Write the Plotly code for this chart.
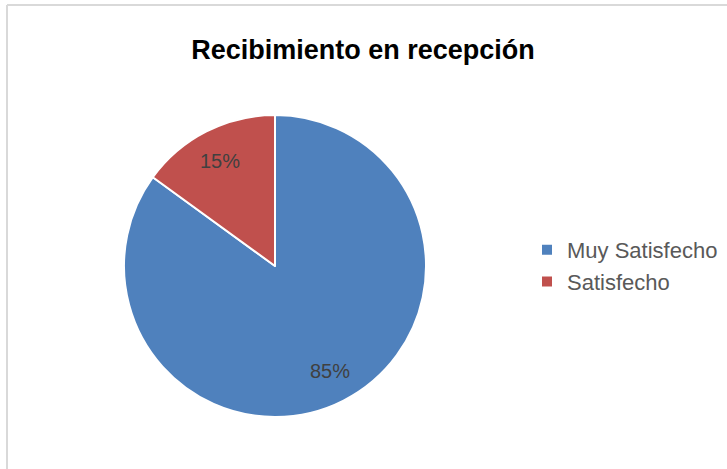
"""Pie chart: Recibimiento en recepción."""

import numpy as np
import plotly.graph_objects as go

labels = ["Muy Satisfecho", "Satisfecho"]
values = [85, 15]
colors = ["#4F81BD", "#C0504D"]

W, H = 727, 469
CX, CY, R = 275, 266, 151  # pie centre / radius in pixels

fig = go.Figure()
fig.add_trace(go.Pie(
    labels=labels,
    values=values,
    sort=False,
    direction="clockwise",
    rotation=0,
    marker=dict(colors=colors, line=dict(color="white", width=2)),
    textinfo="none",
    domain=dict(x=[(CX - R) / W, (CX + R) / W],
                y=[1 - (CY + R) / H, 1 - (CY - R) / H]),
    hoverinfo="label+percent",
))

# percent labels, Excel-style at ~0.8 radius along each slice's mid angle
total = float(sum(values))
start = 0.0
for v in values:
    frac = v / total
    mid = (start + frac / 2) * 2 * np.pi
    start += frac
    px = CX + 0.8 * R * np.sin(mid)
    py = CY - 0.78 * R * np.cos(mid)
    fig.add_annotation(
        x=px / W, y=1 - py / H, xref="paper", yref="paper",
        xanchor="center", yanchor="middle",
        text=f"{round(frac * 100)}%", showarrow=False,
        font=dict(family="Liberation Sans, Arial", size=20, color="#404040"),
    )

# chart frame (only top and left edges visible in the crop)
fig.add_shape(type="line", xref="paper", yref="paper",
              x0=7 / W, x1=1.01, y0=1 - 5 / H, y1=1 - 5 / H,
              line=dict(color="#D9D9D9", width=2))
fig.add_shape(type="line", xref="paper", yref="paper",
              x0=7 / W, x1=7 / W, y0=-0.01, y1=1 - 5 / H,
              line=dict(color="#D9D9D9", width=2))

fig.update_layout(
    width=W,
    height=H,
    margin=dict(l=0, r=0, t=0, b=0),
    paper_bgcolor="white",
    plot_bgcolor="white",
    title=dict(
        text="<b>Recibimiento en recepción</b>",
        x=363 / W, xanchor="center",
        y=1 - 50 / H, yanchor="middle",
        font=dict(family="Liberation Sans, Arial", size=27, color="#000000"),
    ),
    legend=dict(
        x=527 / W, xanchor="left",
        y=1 - 229 / H, yanchor="top",
        font=dict(family="Liberation Sans, Arial", size=22, color="#595959"),
        tracegroupgap=0,
        itemwidth=30,
    ),
    showlegend=True,
)

fig.write_html("out.html", config={"displayModeBar": False},
               post_script="document.body.style.margin='0';")
